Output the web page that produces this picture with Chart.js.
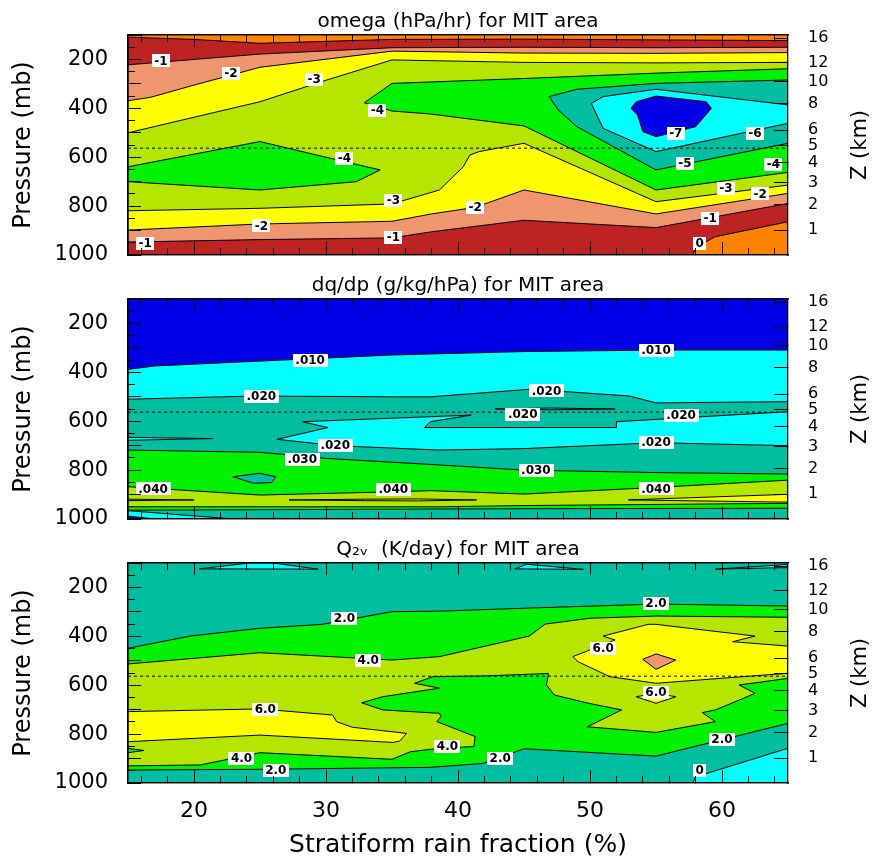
<!DOCTYPE html>
<html><head><meta charset="utf-8">
<script src="https://cdn.jsdelivr.net/npm/chart.js@4.4.1/dist/chart.umd.min.js"></script>
<style>
html,body{margin:0;padding:0;background:#fff;}
body{width:872px;height:857px;position:relative;overflow:hidden;}
canvas{position:absolute;left:0;}
</style></head>
<body>
<canvas id="p1" width="872" height="264" style="top:0px;width:872px;height:264px"></canvas>
<canvas id="p2" width="872" height="264" style="top:264px;width:872px;height:264px"></canvas>
<canvas id="p3" width="872" height="329" style="top:528px;width:872px;height:329px"></canvas>
<script>
// ---------------- axes / ticks ----------------
const xMajorTicks = [20, 30, 40, 50, 60];
const xMinorTicks = [16, 18, 22, 24, 26, 28, 32, 34, 36, 38, 42, 44, 46, 48, 52, 54, 56, 58, 62, 64];
const pMajorTicks = [100, 200, 300, 400, 500, 600, 700, 800, 900, 1000];
const pLabelTicks = [200, 400, 600, 800, 1000];
const pMinorTicks = [150, 250, 350, 450, 550, 650, 750, 850, 950];
const zKmLabels = ['16', '12', '10', '8', '6', '5', '4', '3', '2', '1'];
const zKmPressure = [113, 212, 290, 382, 490, 553, 622, 705, 795, 898];
const meltingLevel = 563;

// ---------------- colours of the shading levels ----------------
const C = {
  blue: '#0000E6', cyan: '#00FFFF', teal: '#00BFA0', green: '#00F200',
  yg: '#B4E600', yellow: '#FFFF00', salmon: '#F0966E', darkred: '#BE2323', orange: '#FF8200'
};

// ---------------- panel 1 : omega (hPa/hr) ----------------
const omegaDomain = [[15,100],[65,100],[65,1000],[15,1000]];
const omegaLt0 = [[15,109],[20,118],[25,134],[30,126],[35,118],[45,117],[55,120],[65,123],[65,864],[59.5,925],[58,970],[57.8,1000],[15,1000]];
const omegaLt1 = [[15,222],[25,178],[35,152],[45,150],[55,152],[65,150],[65,789],[55,888],[45,858],[38,905],[35,930],[25,937],[15,947]];
const omegaLt2 = [[15,369],[16.7,355],[20,305],[25,232],[35,166],[45,174],[55,175],[65,172],[65,748],[55,832],[45,734],[41.3,805],[38,832],[35,862],[25,873],[15,898]];
const omegaLt3 = [[15,500],[25,373],[30,285],[35,202],[45,212],[55,214],[65,212],[65,714],[55,782],[45,543],[41.6,577],[40.9,591],[40.4,639],[38.6,734],[35,791],[25,809],[15,819]];
const omegaLt4a = [[15,639],[25,536],[30.4,605],[34.1,652],[32.3,700],[25,734],[15,700]];
const omegaLt4b = [[32.9,377],[35,298],[45,278],[55,256],[65,238],[65,662],[55,734],[45,472],[37.9,423],[35,411]];
const omegaLt5 = [[46.9,352],[49,322],[55,298],[65,284],[65,543],[55,652],[49,475],[47.6,407]];
const omegaLt6 = [[50.1,380],[51,352],[55,322],[65,386],[65,461],[55,577],[51,482]];
const omegaLt7 = [[53.1,400],[53.5,373],[55,350],[58.8,373],[59.2,400],[58,475],[55,516],[54,495],[53.6,427]];
const omegaLabels = [['-1',17.5,206],['-2',22.8,257],['-3',29.1,280],['-4',33.9,407],['-4',31.4,605],['-3',35.1,775],['-2',25.1,881],['-1',16.3,952],['-1',35.1,928],['-2',41.3,805],['-7',56.5,502],['-6',62.5,502],['-5',57.2,625],['-4',63.9,629],['-3',60.3,727],['-2',62.9,750],['-1',59.1,850],['0',58.3,952]];

// ---------------- panel 2 : dq/dp (g/kg/hPa) ----------------
const dqDomain = [[15,100],[65,100],[65,1000],[15,1000]];
const dqGt010 = [[15,388],[17,374],[25,354],[35,329],[45,315],[55,309],[65,309],[65,1000],[15,1000]];
const dqGt020 = [[15,510],[24.5,497],[35,500],[38,500],[45.5,469],[53,497],[55,525],[65,520],[65,1000],[15,1000]];
const dqHoleLeft = [[15,666],[21.4,671],[15,678]];
const dqHoleMain = [[28.2,602],[41,575],[37.9,602],[37.45,626],[52,626],[52,602],[65,561],[65,700],[55,688],[45,712],[38.6,718],[30.7,700],[26.3,674],[30.15,626]];
const dqHoleMid = [[42.8,550],[47,546],[51.9,550],[47,553]];
const dqGt030 = [[15,718],[25,727],[30,752],[38.6,779],[45,800],[55,810],[65,816],[65,956],[45,958],[15,964]];
const dqHoleGreen = [[22.95,827],[24.97,813],[26.2,827],[25.9,851],[24.5,854]];
const dqGt040 = [[15,868],[25,902],[35,889],[37.9,884],[45,898],[55,871],[65,841],[65,936],[45,945],[38.6,950],[25,950],[15,950]];
const dqGt050a = [[15,919],[20,922],[15,925]];
const dqGt050b = [[27.2,922],[33,919],[37,918],[41.4,922],[37,926],[33,925]];
const dqGt050c = [[52.9,922],[65,899],[65,931]];
const dqLt020Corner = [[15,966],[23,1000],[15,1000]];
const dqLt010Corner = [[15,988],[17,1000],[15,1000]];
const dqLabels = [['.010',28.8,350],['.010',55,309],['.020',25.1,497],['.020',46.7,476],['.020',44.9,572],['.020',56.9,577],['.020',55,686],['.020',30.7,700],['.030',28.2,755],['.030',45.9,800],['.040',16.9,877],['.040',35.1,878],['.040',55,877]];

// ---------------- panel 3 : Q2V (K/day) ----------------
const q2Domain = [[15,100],[65,100],[65,1000],[15,1000]];
const q2Lt0a = [[20.4,124],[24.2,100],[26,100],[29.4,125]];
const q2Lt0b = [[44.3,124],[45.2,105],[49.5,126]];
const q2Lt0c = [[59.5,125],[65,106],[65,119],[63.8,120]];
const q2Lt0d = [[57.8,1000],[58,975],[59.5,950],[65,858],[65,1000]];
const q2Gt2 = [[15,449],[19.7,399],[25,367],[29.7,351],[35,299],[38.6,297],[45,285],[55,268],[65,276],[65,756],[55,890],[45,860],[41.9,920],[37.9,936],[25,944],[15,947]];
const q2Gt4 = [[15,513],[25,467],[35,497],[38.6,483],[45.4,399],[46.6,350],[50,326],[55,317],[65,322],[65,572],[61.3,599],[62.5,633],[61.6,654],[59.5,701],[58.5,712],[59.5,749],[55,793],[49.8,770],[52.4,701],[49.9,674],[47.3,640],[46.7,599],[46.85,552],[42,562],[38.1,565],[36.7,592],[38.6,612],[34.3,647],[32.7,672],[34.3,701],[38.6,715],[38.7,729],[38.4,749],[41.3,810],[41.2,851],[38.6,858],[36.4,872],[35,903],[25,876],[20.5,926],[15,930]];
const q2NotchLeft = [[15,858],[16.2,867],[15,876]];
const q2Gt6a = [[15,708],[25,697],[30.5,722],[30.8,749],[32,772],[36.1,797],[35.6,828],[35.1,834],[25,804],[15,831]];
const q2Gt6b = [[51,399],[54.4,351],[55,351],[62.5,399],[60.8,422],[65,440],[65,551],[55,592],[51.5,565],[49.1,504],[48.7,483],[51.9,415]];
const q2Gt6c = [[53.5,647],[55,633],[56.5,647],[55,674]];
const q2Gt8 = [[54,494],[55,472],[56.5,497],[55,535]];
const q2Labels = [['2.0',31.4,326],['2.0',55,265],['4.0',33.2,497],['6.0',25.4,699],['6.0',51,449],['6.0',55,630],['4.0',39.2,849],['4.0',23.6,899],['2.0',26.2,947],['2.0',43.2,899],['2.0',60,821],['0',58.3,947]];

// ---------------- helpers ----------------
const FONT = "'DejaVu Sans', 'Liberation Sans', sans-serif";

function polygon(points, color, stroke) {
  const pts = points.map(([x, y]) => ({x, y}));
  pts.push({x: points[0][0], y: points[0][1]});
  return {
    data: pts, showLine: true, fill: 'shape', backgroundColor: color,
    borderColor: '#000', borderWidth: stroke === false ? 0 : 1,
    pointRadius: 0, pointHoverRadius: 0, pointHitRadius: 0, tension: 0,
    xAxisID: 'x', yAxisID: 'y'
  };
}
function dashedLevel(p) {
  return {
    data: [{x: 15, y: p}, {x: 65, y: p}], showLine: true, fill: false,
    borderColor: '#000', borderWidth: 1, borderDash: [3, 3],
    pointRadius: 0, pointHitRadius: 0, xAxisID: 'x', yAxisID: 'y'
  };
}
function inwardGrid(len) {
  return {display: true, drawOnChartArea: false, drawTicks: true, tickLength: -len, tickColor: '#000', tickWidth: 1, z: 1};
}
const BORDER = {display: true, color: '#000', width: 1.3, z: 1};

function buildScales(cfg) {
  return {
    x: {
      type: 'linear', position: 'bottom', weight: 1, min: 15, max: 65,
      afterBuildTicks: s => { s.ticks = xMajorTicks.map(v => ({value: v})); },
      ticks: {display: cfg.showX, autoSkip: false, maxRotation: 0, color: '#000', padding: 28, font: {family: FONT, size: 22}},
      grid: inwardGrid(13), border: BORDER,
      title: {display: cfg.showX, text: 'Stratiform rain fraction (%)', color: '#000', font: {family: FONT, size: 25, lineHeight: 0.9}, padding: {top: 0, bottom: 0}},
      afterFit: s => { s.height = cfg.bottomH; s.paddingLeft = 0; s.paddingRight = 0; }
    },
    xMinor: {
      type: 'linear', position: 'bottom', weight: 0, min: 15, max: 65,
      afterBuildTicks: s => { s.ticks = xMinorTicks.map(v => ({value: v})); },
      ticks: {display: false, autoSkip: false}, grid: inwardGrid(7), border: BORDER,
      afterFit: s => { s.height = 0; s.paddingLeft = 0; s.paddingRight = 0; }
    },
    xTop: {
      type: 'linear', position: 'top', weight: 1, min: 15, max: 65,
      afterBuildTicks: s => { s.ticks = xMajorTicks.map(v => ({value: v})); },
      ticks: {display: false, autoSkip: false}, grid: inwardGrid(12), border: BORDER,
      title: {display: true, text: cfg.title, color: '#000', font: {family: FONT, size: 20, lineHeight: 1.2}, padding: {top: 10, bottom: 0}},
      afterFit: s => { s.height = 35; s.paddingLeft = 0; s.paddingRight = 0; }
    },
    xTopMinor: {
      type: 'linear', position: 'top', weight: 0, min: 15, max: 65,
      afterBuildTicks: s => { s.ticks = xMinorTicks.map(v => ({value: v})); },
      ticks: {display: false, autoSkip: false}, grid: inwardGrid(7), border: BORDER,
      afterFit: s => { s.height = 0; s.paddingLeft = 0; s.paddingRight = 0; }
    },
    y: {
      type: 'linear', position: 'left', weight: 1, min: 100, max: 1000, reverse: true,
      afterBuildTicks: s => { s.ticks = pMajorTicks.map(v => ({value: v})); },
      ticks: {autoSkip: false, color: '#000', padding: 33, font: {family: FONT, size: 21},
              callback: v => pLabelTicks.includes(v) ? String(v) : ''},
      grid: inwardGrid(13), border: BORDER,
      title: {display: true, text: 'Pressure (mb)', color: '#000', font: {family: FONT, size: 24, lineHeight: 1.2}, padding: {top: 9, bottom: 0}},
      afterFit: s => { s.width = 128; s.paddingTop = 0; s.paddingBottom = 0; }
    },
    yMinor: {
      type: 'linear', position: 'left', weight: 0, min: 100, max: 1000, reverse: true,
      afterBuildTicks: s => { s.ticks = pMinorTicks.map(v => ({value: v})); },
      ticks: {display: false, autoSkip: false}, grid: inwardGrid(7), border: BORDER,
      afterFit: s => { s.width = 0; s.paddingTop = 0; s.paddingBottom = 0; }
    },
    yZ: {
      type: 'linear', position: 'right', weight: 1, min: 100, max: 1000, reverse: true,
      afterBuildTicks: s => { s.ticks = zKmPressure.map(v => ({value: v})); },
      ticks: {autoSkip: false, color: '#000', padding: 34, font: {family: FONT, size: 16},
              callback: (v, i) => zKmLabels[i]},
      grid: inwardGrid(14), border: BORDER,
      afterFit: s => { s.width = 84; s.paddingTop = 0; s.paddingBottom = 0; }
    }
  };
}

const contourLabelPlugin = {
  id: 'contourLabels',
  afterDatasetsDraw(chart, args, opts) {
    const {ctx} = chart; const xs = chart.scales.x, ys = chart.scales.y;
    ctx.save();
    ctx.font = 'bold 12px ' + FONT;
    ctx.textAlign = 'center'; ctx.textBaseline = 'middle';
    (opts.items || []).forEach(([t, x, p]) => {
      const px = xs.getPixelForValue(x), py = ys.getPixelForValue(p);
      const w = ctx.measureText(t).width + 5;
      ctx.fillStyle = '#fff';
      ctx.fillRect(Math.round(px - w / 2), Math.round(py - 6.5), Math.round(w), 13);
      ctx.fillStyle = '#000';
      ctx.fillText(t, px, py + 0.5);
    });
    ctx.restore();
  },
  afterDraw(chart) {
    const {ctx, chartArea} = chart;
    ctx.save();
    ctx.translate(861, (chartArea.top + chartArea.bottom) / 2);
    ctx.rotate(-Math.PI / 2);
    ctx.font = '21px ' + FONT; ctx.fillStyle = '#000';
    ctx.textAlign = 'center'; ctx.textBaseline = 'middle';
    ctx.fillText('Z (km)', 0, 0);
    ctx.restore();
  }
};

function makeChart(id, layers, labels, cfg) {
  const datasets = layers.map(([pts, col, stroke]) => polygon(pts, col, stroke));
  datasets.push(dashedLevel(meltingLevel));
  new Chart(document.getElementById(id), {
    type: 'scatter',
    data: {datasets: datasets.reverse()},
    options: {
      responsive: false, animation: false, events: [],
      layout: {padding: {top: 0, left: 0, right: 0, bottom: 0}},
      plugins: {legend: {display: false}, tooltip: {enabled: false}, contourLabels: {items: labels}},
      scales: buildScales(cfg)
    },
    plugins: [contourLabelPlugin]
  });
}

makeChart('p1', [
  [omegaDomain, C.orange, false],
  [omegaLt0, C.darkred], [omegaLt1, C.salmon], [omegaLt2, C.yellow], [omegaLt3, C.yg],
  [omegaLt4a, C.green], [omegaLt4b, C.green], [omegaLt5, C.teal], [omegaLt6, C.cyan], [omegaLt7, C.blue]
], omegaLabels, {title: 'omega (hPa/hr) for MIT area', showX: false, bottomH: 9});

makeChart('p2', [
  [dqDomain, C.blue, false],
  [dqGt010, C.cyan], [dqGt020, C.teal], [dqHoleLeft, C.cyan], [dqHoleMain, C.cyan], [dqHoleMid, C.cyan],
  [dqGt030, C.green], [dqHoleGreen, C.teal], [dqGt040, C.yg],
  [dqGt050a, C.yellow], [dqGt050b, C.yellow], [dqGt050c, C.yellow],
  [dqLt020Corner, C.cyan], [dqLt010Corner, C.blue]
], dqLabels, {title: 'dq/dp (g/kg/hPa) for MIT area', showX: false, bottomH: 9});

makeChart('p3', [
  [q2Domain, C.teal, false],
  [q2Lt0a, C.cyan], [q2Lt0b, C.cyan], [q2Lt0c, C.cyan], [q2Lt0d, C.cyan],
  [q2Gt2, C.green], [q2Gt4, C.yg], [q2NotchLeft, C.green],
  [q2Gt6a, C.yellow], [q2Gt6b, C.yellow], [q2Gt6c, C.yellow], [q2Gt8, C.salmon]
], q2Labels, {title: 'Q\u2082\u1D65  (K/day) for MIT area', showX: true, bottomH: 74});
</script>
</body></html>
